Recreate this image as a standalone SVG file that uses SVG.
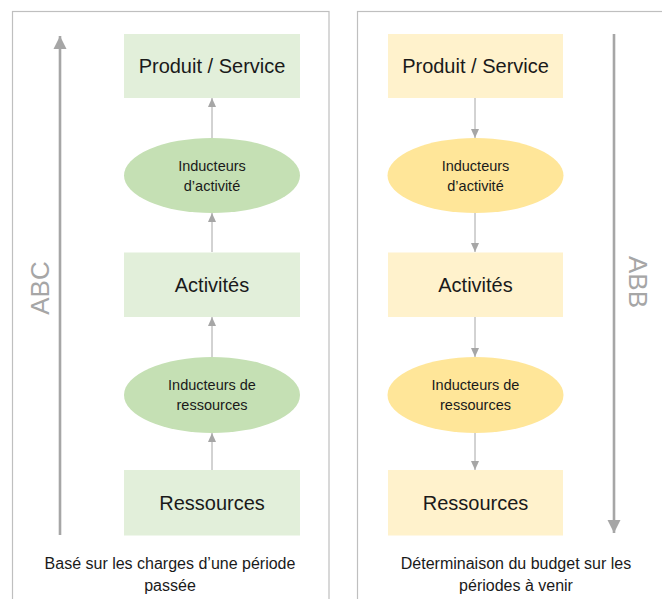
<svg xmlns="http://www.w3.org/2000/svg" width="662" height="599" viewBox="0 0 662 599">
<defs>
<style>
.frame{fill:none;stroke:#bfbfbf;stroke-width:1.2}
.gbox{fill:#e2efda}
.gell{fill:#c5e0b4}
.ybox{fill:#fff2cc}
.yell{fill:#ffe699}
.t{font-family:"Liberation Sans",Arial,sans-serif;fill:#1a1a1a;text-anchor:middle}
.big{font-size:20px}
.sm{font-size:14.5px}
.cap{font-size:16px}
.lbl{font-family:"Liberation Sans",Arial,sans-serif;font-size:26px;fill:#a6a6a6;text-anchor:middle}
.conn{stroke:#a6a6a6;stroke-width:1;fill:none}
.long{stroke:#a6a6a6;stroke-width:2.6;fill:none}
</style>
<marker id="ah" markerWidth="10" markerHeight="10" refX="9" refY="5" orient="auto" markerUnits="userSpaceOnUse">
<path d="M0,1 L9,5 L0,9 Z" fill="#a6a6a6"/>
</marker>
<marker id="ahl" markerWidth="6" markerHeight="6" refX="5" refY="3" orient="auto" markerUnits="strokeWidth">
<path d="M0,0.5 L5,3 L0,5.5 Z" fill="#a6a6a6"/>
</marker>
</defs>
<rect class="frame" x="12.5" y="11.5" width="316.5" height="600"/>
<rect class="frame" x="357.5" y="11.5" width="320" height="600"/>

<g id="connectors">
<line class="conn" x1="212" y1="138" x2="212" y2="98" marker-end="url(#ah)"/>
<line class="conn" x1="212" y1="252" x2="212" y2="213" marker-end="url(#ah)"/>
<line class="conn" x1="212" y1="357" x2="212" y2="317" marker-end="url(#ah)"/>
<line class="conn" x1="212" y1="470" x2="212" y2="433" marker-end="url(#ah)"/>
<line class="conn" x1="475" y1="98" x2="475" y2="138" marker-end="url(#ah)"/>
<line class="conn" x1="475" y1="213" x2="475" y2="252" marker-end="url(#ah)"/>
<line class="conn" x1="475" y1="317" x2="475" y2="357" marker-end="url(#ah)"/>
<line class="conn" x1="475" y1="433" x2="475" y2="470" marker-end="url(#ah)"/>
<line class="long" x1="60" y1="535" x2="60" y2="36" marker-end="url(#ahl)"/>
<line class="long" x1="614" y1="34" x2="614" y2="533" marker-end="url(#ahl)"/>
</g>

<g id="abc-produit"><rect class="gbox" x="124" y="34" width="176" height="64"/><text class="t big" x="212" y="73">Produit / Service</text></g>
<g id="abc-inducteurs-activite"><ellipse class="gell" cx="212" cy="175.5" rx="88" ry="37.5"/><text class="t sm" x="212" y="170.5">Inducteurs</text><text class="t sm" x="212" y="190.5">d’activité</text></g>
<g id="abc-activites"><rect class="gbox" x="124" y="252.5" width="176" height="64.5"/><text class="t big" x="212" y="291.5">Activités</text></g>
<g id="abc-inducteurs-ressources"><ellipse class="gell" cx="212" cy="395" rx="88" ry="38"/><text class="t sm" x="212" y="389.5">Inducteurs de</text><text class="t sm" x="212" y="409.5">ressources</text></g>
<g id="abc-ressources"><rect class="gbox" x="124" y="470" width="176" height="65.5"/><text class="t big" x="212" y="509.5">Ressources</text></g>

<g id="abb-produit"><rect class="ybox" x="388" y="34" width="175" height="64"/><text class="t big" x="475.5" y="73">Produit / Service</text></g>
<g id="abb-inducteurs-activite"><ellipse class="yell" cx="475.5" cy="175.5" rx="88" ry="37.5"/><text class="t sm" x="475.5" y="170.5">Inducteurs</text><text class="t sm" x="475.5" y="190.5">d’activité</text></g>
<g id="abb-activites"><rect class="ybox" x="388" y="252.5" width="175" height="64.5"/><text class="t big" x="475.5" y="291.5">Activités</text></g>
<g id="abb-inducteurs-ressources"><ellipse class="yell" cx="475.5" cy="395" rx="88" ry="38"/><text class="t sm" x="475.5" y="389.5">Inducteurs de</text><text class="t sm" x="475.5" y="409.5">ressources</text></g>
<g id="abb-ressources"><rect class="ybox" x="388" y="470" width="175" height="65.5"/><text class="t big" x="475.5" y="509.5">Ressources</text></g>

<g id="abc-label"><text class="lbl" transform="translate(49,288) rotate(-90)">ABC</text></g>
<g id="abb-label"><text class="lbl" transform="translate(629,282) rotate(90)">ABB</text></g>

<g id="captions">
<text class="t cap" x="170" y="569">Basé sur les charges d’une période</text>
<text class="t cap" x="170" y="591">passée</text>
<text class="t cap" x="516" y="569">Déterminaison du budget sur les</text>
<text class="t cap" x="516" y="591">périodes à venir</text>
</g>
</svg>
